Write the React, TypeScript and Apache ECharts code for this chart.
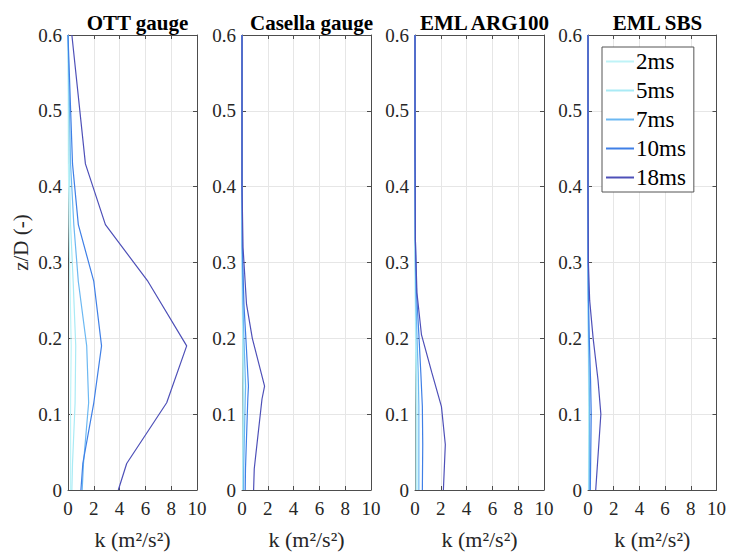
import React, { useEffect, useRef } from "react";
import * as echarts from "echarts";

const seriesNames = ["2ms", "5ms", "7ms", "10ms", "18ms"];
const seriesColors = ["#bff3f7", "#a9eaf5", "#6cb8f2", "#3f7fe6", "#4e50b8"];
const panelTitles = ["OTT gauge", "Casella gauge", "EML ARG100", "EML SBS"];

// z/D levels per gauge
const ottZ = [0, 0.035, 0.115, 0.19, 0.275, 0.35, 0.43, 0.6];
const ott2ms = [0.2, 0.2, 0.2, 0.25, 0.15, 0.08, 0.03, 0];
const ott5ms = [0.3, 0.35, 0.55, 0.6, 0.4, 0.2, 0.1, 0];
const ott7ms = [1.1, 1.2, 1.6, 1.45, 0.8, 0.45, 0.2, 0];
const ott10ms = [1.0, 1.15, 2.0, 2.6, 2.0, 0.8, 0.35, 0];
const ott18ms = [3.9, 4.55, 7.65, 9.2, 6.2, 2.9, 1.35, 0.3];

const casZ = [0, 0.028, 0.12, 0.137, 0.2, 0.245, 0.32, 0.4, 0.6];
const cas2ms = [0.05, 0.05, 0.07, 0.07, 0.05, 0.02, 0, 0, 0];
const cas5ms = [0.08, 0.08, 0.12, 0.13, 0.08, 0.04, 0, 0, 0];
const cas7ms = [0.12, 0.13, 0.25, 0.28, 0.15, 0.07, 0.01, 0, 0];
const cas10ms = [0.25, 0.27, 0.45, 0.5, 0.3, 0.15, 0.03, 0, 0];
const cas18ms = [0.9, 0.95, 1.55, 1.75, 0.8, 0.35, 0.08, 0, 0];

const argZ = [0, 0.06, 0.11, 0.155, 0.205, 0.26, 0.33, 0.45, 0.6];
const arg2ms = [0.08, 0.08, 0.08, 0.06, 0.04, 0.02, 0, 0, 0];
const arg5ms = [0.15, 0.15, 0.15, 0.12, 0.07, 0.03, 0, 0, 0];
const arg7ms = [0.3, 0.3, 0.3, 0.25, 0.15, 0.06, 0.01, 0, 0];
const arg10ms = [0.57, 0.6, 0.57, 0.45, 0.3, 0.12, 0.03, 0, 0];
const arg18ms = [2.2, 2.35, 2.05, 1.3, 0.5, 0.15, 0.03, 0, 0];

const sbsZ = [0, 0.1, 0.145, 0.2, 0.25, 0.3, 0.4, 0.6];
const sbs2ms = [0.04, 0.05, 0.04, 0.02, 0.01, 0, 0, 0];
const sbs5ms = [0.06, 0.08, 0.06, 0.03, 0.01, 0, 0, 0];
const sbs7ms = [0.1, 0.13, 0.1, 0.05, 0.02, 0, 0, 0];
const sbs10ms = [0.18, 0.25, 0.2, 0.1, 0.04, 0.01, 0, 0];
const sbs18ms = [0.6, 1.0, 0.78, 0.4, 0.13, 0.03, 0, 0];

const panels = [
  { z: ottZ, k: [ott2ms, ott5ms, ott7ms, ott10ms, ott18ms] },
  { z: casZ, k: [cas2ms, cas5ms, cas7ms, cas10ms, cas18ms] },
  { z: argZ, k: [arg2ms, arg5ms, arg7ms, arg10ms, arg18ms] },
  { z: sbsZ, k: [sbs2ms, sbs5ms, sbs7ms, sbs10ms, sbs18ms] },
];

const xTicks = [0, 2, 4, 6, 8, 10];
const yTicks = [0, 0.1, 0.2, 0.3, 0.4, 0.5, 0.6];

const FONT = "Times New Roman";
const AX = "#4d4d4d";
const TXT = "#262626";

export default function App() {
  const ref = useRef<HTMLDivElement>(null);
  useEffect(() => {
    if (!ref.current) return;
    const chart = echarts.init(ref.current, undefined, { renderer: "svg" });
    const lefts = [68, 242, 415, 588];
    const W = 129;
    const top = 35;
    const H = 457;
    const grids: any[] = [];
    const xAxes: any[] = [];
    const yAxes: any[] = [];
    const titles: any[] = [];
    const series: any[] = [];
    lefts.forEach((l, i) => {
      grids.push({ left: l, top, width: W, height: H, containLabel: false });
      titles.push({
        text: panelTitles[i],
        left: l + W / 2,
        top: 7,
        textAlign: "center",
        textStyle: { fontFamily: FONT, fontWeight: "bold", fontSize: 21, color: "#000" },
      });
      xAxes.push({
        type: "value",
        gridIndex: i,
        min: xTicks[0],
        max: xTicks[xTicks.length - 1],
        interval: 2,
        position: "bottom",
        name: "k (m²/s²)",
        nameLocation: "middle",
        nameGap: 38,
        nameTextStyle: { fontFamily: FONT, fontSize: 22, color: TXT },
        axisLine: { onZero: false, lineStyle: { color: AX, width: 1 } },
        axisTick: { inside: true, length: 4, lineStyle: { color: AX } },
        axisLabel: { fontFamily: FONT, fontSize: 19, color: TXT, margin: 9 },
        splitLine: { show: true, lineStyle: { color: "#e6e6e6", width: 1 } },
      });
      xAxes.push({
        type: "value",
        gridIndex: i,
        min: xTicks[0],
        max: xTicks[xTicks.length - 1],
        interval: 2,
        position: "top",
        axisLine: { onZero: false, lineStyle: { color: AX, width: 1 } },
        axisTick: { inside: true, length: 4, lineStyle: { color: AX } },
        axisLabel: { show: false },
        splitLine: { show: false },
      });
      yAxes.push({
        type: "value",
        gridIndex: i,
        min: yTicks[0],
        max: yTicks[yTicks.length - 1],
        interval: 0.1,
        position: "left",
        name: i === 0 ? "z/D (-)" : "",
        nameLocation: "middle",
        nameGap: 37,
        nameTextStyle: { fontFamily: FONT, fontSize: 21, color: TXT, padding: [0, 0, 0, 40] },
        axisLine: { onZero: false, lineStyle: { color: AX, width: 1 } },
        axisTick: { inside: true, length: 4, lineStyle: { color: AX } },
        axisLabel: {
          fontFamily: FONT,
          fontSize: 19,
          color: TXT,
          margin: 6,
          formatter: (v: number) => (Math.round(v * 10) / 10).toString(),
        },
        splitLine: { show: true, lineStyle: { color: "#e6e6e6", width: 1 } },
      });
      yAxes.push({
        type: "value",
        gridIndex: i,
        min: yTicks[0],
        max: yTicks[yTicks.length - 1],
        interval: 0.1,
        position: "right",
        axisLine: { onZero: false, lineStyle: { color: AX, width: 1 } },
        axisTick: { inside: true, length: 4, lineStyle: { color: AX } },
        axisLabel: { show: false },
        splitLine: { show: false },
      });
      const p = panels[i];
      seriesNames.forEach((name, j) => {
        series.push({
          type: "line",
          name,
          xAxisIndex: i * 2,
          yAxisIndex: i * 2,
          data: p.z.map((z, n) => [p.k[j][n], z]),
          symbol: "none",
          showSymbol: false,
          lineStyle: { color: seriesColors[j], width: 1.2 },
          itemStyle: { color: seriesColors[j] },
          z: 2 + j,
          clip: true,
        });
      });
    });
    chart.setOption({
      animation: false,
      backgroundColor: "#fff",
      textStyle: { fontFamily: FONT },
      title: titles,
      grid: grids,
      xAxis: xAxes,
      yAxis: yAxes,
      series,
      legend: {
        data: seriesNames,
        orient: "vertical",
        left: 602,
        top: 47,
        padding: [3, 8, 3, 4],
        itemGap: 6,
        itemWidth: 28,
        itemHeight: 2,
        icon: "rect",
        borderColor: "#555",
        borderWidth: 1,
        backgroundColor: "#fff",
        textStyle: { fontFamily: FONT, fontSize: 23, color: "#000", padding: [0, 0, 0, -3] },
      },
    });
    return () => chart.dispose();
  }, []);
  return <div ref={ref} style={{ width: 729, height: 555, position: "absolute", left: 0, top: 0 }} />;
}
